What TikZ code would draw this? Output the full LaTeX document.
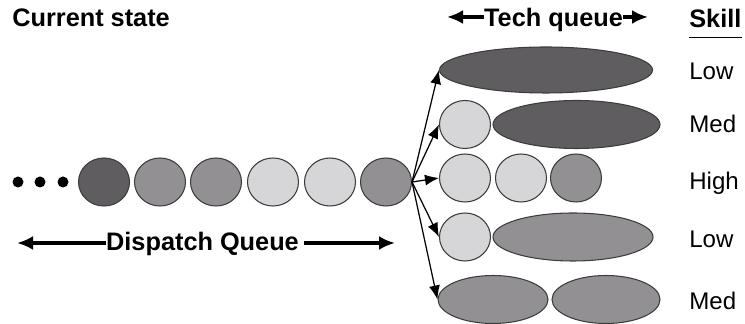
\documentclass[tikz,border=0pt]{standalone}
\usepackage{fontspec}
\setmainfont{Liberation Sans}
\usetikzlibrary{shapes.geometric,arrows.meta}

\definecolor{jobdark}{RGB}{95,93,96}
\definecolor{jobmid}{RGB}{146,144,147}
\definecolor{joblight}{RGB}{214,213,216}
\definecolor{jobedge}{RGB}{60,60,60}

\tikzset{
  txt/.style={font=\fontsize{13.7}{16}\selectfont,inner sep=0pt},
  title/.style={txt,font=\fontsize{14.4}{17}\selectfont\bfseries},
  job/.style={ellipse,draw=jobedge,line width=0.6pt,inner sep=0pt,minimum width=1.02cm,minimum height=0.96cm},
  bigarrow/.style={line width=1.8pt,-{Latex[length=3.2mm,width=2.8mm]}},
  route/.style={line width=0.7pt,-{Latex[length=2.8mm,width=2.2mm]}}
}

\begin{document}
\begin{tikzpicture}
\useasboundingbox (0,0) rectangle (14.9,-6.48);

% Titles
\node (curstate) at (0.24,-0.54) [title,anchor=base west] {Current state};
\node (techq) at (11.07,-0.54) [title,anchor=base] {Tech queue};
\node (skill) at (13.78,-0.56) [title,anchor=base west] {Skill};
\draw[line width=0.6pt] (skill.west |- 0,-0.75) -- (skill.east |- 0,-0.75);
\draw[bigarrow] (techq.west |- 0,-0.34) -- (8.94,-0.34);
\draw[bigarrow] (techq.east |- 0,-0.34) -- (12.96,-0.34);

% The dispatch queue
\fill (0.36,-3.64) circle(0.11) (0.8,-3.64) circle(0.11) (1.26,-3.64) circle(0.11);
\node (d1) at (2.08,-3.64) [job,fill=jobdark] {};
\node (d2) at (3.2,-3.64) [job,fill=jobmid] {};
\node (d3) at (4.32,-3.64) [job,fill=jobmid] {};
\node (d4) at (5.46,-3.64) [job,fill=joblight] {};
\node (d5) at (6.6,-3.64) [job,fill=joblight] {};
\node (d6) at (7.72,-3.64) [job,fill=jobmid] {};

\node (dispq) at (4.05,-5.02) [title,anchor=base] {Dispatch Queue};
\coordinate (dqleft) at (0.34,-4.86);
\coordinate (dqright) at (7.9,-4.86);
\draw[bigarrow] (dispq.west |- dqleft) -- (dqleft);
\draw[bigarrow] (dispq.east |- dqright) ++(0.1,0) -- (dqright);

% Tech queues
\node (t1a) at (10.92,-1.4) [job,fill=jobdark,minimum width=4.26cm,minimum height=0.92cm] {};

\node (t2a) at (9.3,-2.49) [job,fill=joblight] {};
\node (t2b) at (11.53,-2.49) [job,fill=jobdark,minimum width=3.34cm] {};

\node (t3a) at (9.3,-3.56) [job,fill=joblight] {};
\node (t3b) at (10.42,-3.56) [job,fill=joblight] {};
\node (t3c) at (11.52,-3.56) [job,fill=jobmid] {};

\node (t4a) at (9.3,-4.74) [job,fill=joblight] {};
\node (t4b) at (11.46,-4.74) [job,fill=jobmid,minimum width=3.2cm] {};

\node (t5a) at (9.86,-5.99) [job,fill=jobmid,minimum width=2.2cm] {};
\node (t5b) at (12.12,-5.99) [job,fill=jobmid,minimum width=2.16cm] {};

% Routing to the techs
\draw[route] (d6.east) -- (t1a.west);
\draw[route] (d6.east) -- (t2a.west);
\draw[route] (d6.east) -- (t3a.west);
\draw[route] (d6.east) -- (t4a.west);
\draw[route] (d6.east) -- (t5a.west);

% Skill levels
\node (sk1) at (13.78,-1.6) [txt,anchor=base west] {Low};
\node (sk2) at (13.78,-2.66) [txt,anchor=base west] {Med};
\node (sk3) at (13.78,-3.8) [txt,anchor=base west] {High};
\node (sk4) at (13.78,-4.96) [txt,anchor=base west] {Low};
\node (sk5) at (13.78,-6.2) [txt,anchor=base west] {Med};

\end{tikzpicture}
\end{document}
